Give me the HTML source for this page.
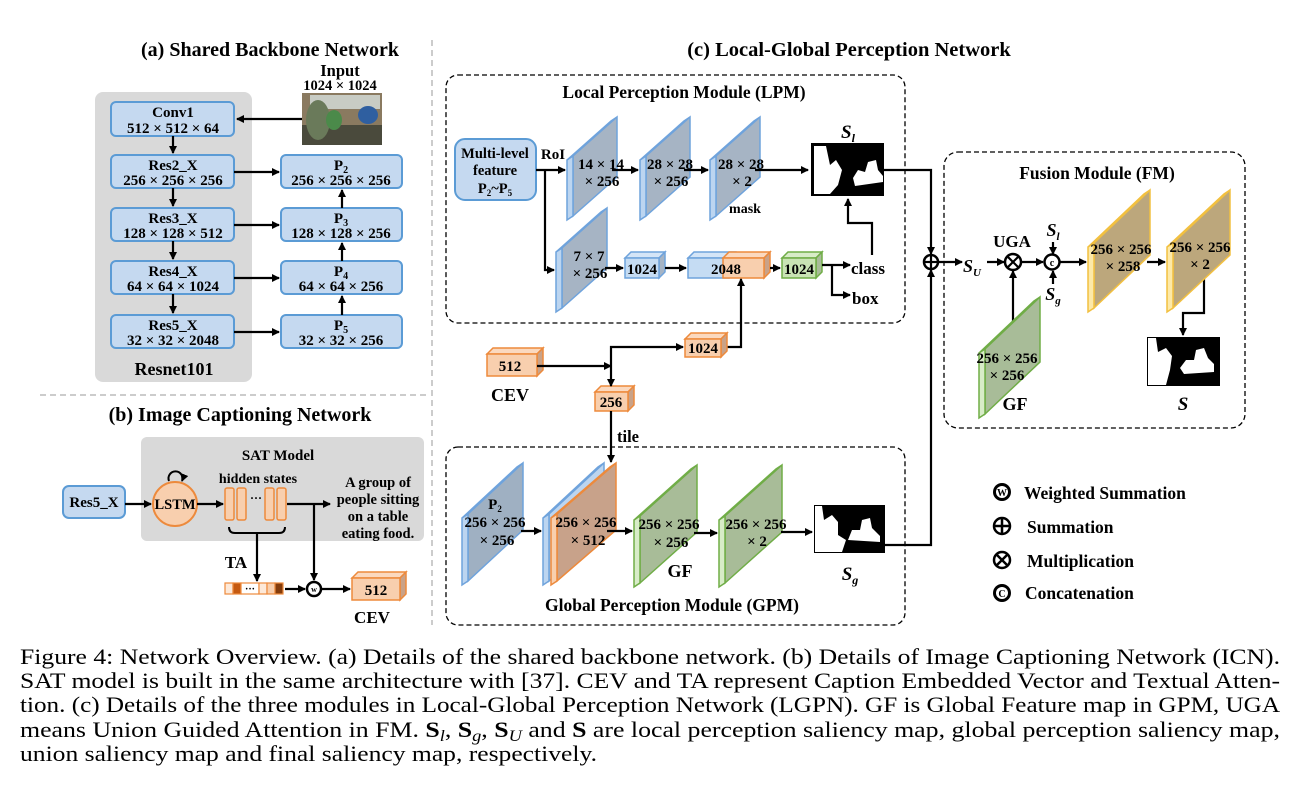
<!DOCTYPE html>
<html><head><meta charset="utf-8"><style>
html,body{margin:0;padding:0;background:#fff;}
svg{display:block;}
text{font-family:"Liberation Serif",serif;}
.b{font-weight:bold;}
</style></head><body>
<svg width="1301" height="794" viewBox="0 0 1301 794" xmlns="http://www.w3.org/2000/svg">
<defs>
<marker id="ar" markerWidth="8" markerHeight="8" refX="7" refY="4" orient="auto" markerUnits="userSpaceOnUse">
<path d="M0,0 L8,4 L0,8 Z" fill="#000"/></marker>
</defs>

<line x1="432" y1="40" x2="432" y2="625" stroke="#bbb" stroke-width="1.5" stroke-dasharray="6,4"/>
<line x1="40" y1="395" x2="430" y2="395" stroke="#bbb" stroke-width="1.5" stroke-dasharray="6,4"/>

<!-- (a) -->
<text x="270" y="56" font-size="20" class="b" text-anchor="middle">(a) Shared Backbone Network</text>
<text x="340" y="76" font-size="16.5" class="b" text-anchor="middle">Input</text>
<text x="340" y="90" font-size="14.5" class="b" text-anchor="middle">1024 × 1024</text>
<rect x="95" y="92" width="157" height="290" rx="8" fill="#d9d9d9"/>
<g fill="#c5d9f0" stroke="#5b9bd5" stroke-width="2">
<rect x="111" y="102" width="123" height="34" rx="5"/>
<rect x="111" y="155" width="123" height="33" rx="5"/>
<rect x="111" y="208" width="123" height="33" rx="5"/>
<rect x="111" y="261" width="123" height="33" rx="5"/>
<rect x="111" y="315" width="123" height="33" rx="5"/>
<rect x="281" y="155" width="121" height="33" rx="5"/>
<rect x="281" y="208" width="121" height="33" rx="5"/>
<rect x="281" y="261" width="121" height="33" rx="5"/>
<rect x="281" y="315" width="121" height="33" rx="5"/>
</g>
<g font-size="15" class="b" text-anchor="middle">
<text x="173" y="117">Conv1</text><text x="173" y="133">512 × 512 × 64</text>
<text x="173" y="170">Res2_X</text><text x="173" y="185">256 × 256 × 256</text>
<text x="173" y="223">Res3_X</text><text x="173" y="238">128 × 128 × 512</text>
<text x="173" y="276">Res4_X</text><text x="173" y="291">64 × 64 × 1024</text>
<text x="173" y="330">Res5_X</text><text x="173" y="345">32 × 32 × 2048</text>
<text x="341" y="170">P<tspan font-size="10" dy="3">2</tspan></text><text x="341" y="185">256 × 256 × 256</text>
<text x="341" y="223">P<tspan font-size="10" dy="3">3</tspan></text><text x="341" y="238">128 × 128 × 256</text>
<text x="341" y="276">P<tspan font-size="10" dy="3">4</tspan></text><text x="341" y="291">64 × 64 × 256</text>
<text x="341" y="330">P<tspan font-size="10" dy="3">5</tspan></text><text x="341" y="345">32 × 32 × 256</text>
</g>
<text x="174" y="375" font-size="18" class="b" text-anchor="middle">Resnet101</text>
<rect x="302" y="93" width="80" height="52" fill="#8a7a60"/>
<rect x="310" y="95" width="70" height="14" fill="#c8ccc4"/>
<rect x="302" y="125" width="80" height="20" fill="#4a4a3c"/>
<ellipse cx="318" cy="120" rx="12" ry="20" fill="#6a7a5a"/>
<ellipse cx="334" cy="120" rx="8" ry="10" fill="#4b8a4a"/>
<ellipse cx="368" cy="115" rx="10" ry="9" fill="#2f5fa0"/>
<g stroke="#000" stroke-width="2.2" fill="none" marker-end="url(#ar)">
<line x1="302" y1="119" x2="237" y2="119"/>
<line x1="173" y1="136" x2="173" y2="153"/>
<line x1="173" y1="188" x2="173" y2="206"/>
<line x1="173" y1="241" x2="173" y2="259"/>
<line x1="173" y1="294" x2="173" y2="313"/>
<line x1="234" y1="172" x2="279" y2="172"/>
<line x1="234" y1="225" x2="279" y2="225"/>
<line x1="234" y1="278" x2="279" y2="278"/>
<line x1="234" y1="332" x2="279" y2="332"/>
<line x1="342" y1="315" x2="342" y2="296"/>
<line x1="342" y1="261" x2="342" y2="243"/>
<line x1="342" y1="208" x2="342" y2="190"/>
</g>

<!-- (b) -->
<text x="240" y="421" font-size="20" class="b" text-anchor="middle">(b) Image Captioning Network</text>
<rect x="141" y="437" width="283" height="104" rx="6" fill="#d9d9d9"/>
<text x="278" y="460" font-size="15" class="b" text-anchor="middle">SAT Model</text>
<rect x="63" y="486" width="62" height="32" rx="6" fill="#c5d9f0" stroke="#5b9bd5" stroke-width="2"/>
<text x="94" y="507" font-size="15" class="b" text-anchor="middle">Res5_X</text>
<circle cx="175" cy="504" r="22" fill="#f8cfae" stroke="#ed8a3c" stroke-width="2"/>
<text x="175" y="509" font-size="14.5" class="b" text-anchor="middle">LSTM</text>
<path d="M169,481 A7,7 0 1 1 182,481" stroke="#000" stroke-width="2" fill="none" marker-end="url(#ar)"/>
<text x="258" y="483" font-size="14" class="b" text-anchor="middle">hidden states</text>
<g fill="#f8cfae" stroke="#ed8a3c" stroke-width="1.5">
<rect x="225" y="488" width="9" height="32" rx="2"/><rect x="237" y="488" width="9" height="32" rx="2"/>
<rect x="265" y="488" width="9" height="32" rx="2"/><rect x="277" y="488" width="9" height="32" rx="2"/>
</g>
<text x="256" y="502" font-size="12" class="b" text-anchor="middle">···</text>
<g font-size="14.5" class="b" text-anchor="middle">
<text x="378" y="487">A group of</text><text x="378" y="504">people sitting</text>
<text x="378" y="521">on a table</text><text x="378" y="538">eating food.</text>
</g>
<path d="M229,527 Q229,533 235,533 L279,533 Q285,533 285,527" stroke="#000" stroke-width="2" fill="none"/>
<text x="236" y="568" font-size="17" class="b" text-anchor="middle">TA</text>
<g stroke="#ed8a3c" stroke-width="1.2">
<rect x="225" y="583" width="8" height="11" fill="#fde9d9"/><rect x="233" y="583" width="8" height="11" fill="#c55a11"/>
<rect x="241" y="583" width="18" height="11" fill="#fff"/><rect x="259" y="583" width="8" height="11" fill="#fde9d9"/>
<rect x="267" y="583" width="8" height="11" fill="#f8cfae"/><rect x="275" y="583" width="8" height="11" fill="#843c0c"/>
</g>
<text x="250" y="592" font-size="10" class="b" text-anchor="middle">···</text>
<circle cx="314" cy="589" r="7" fill="#fff" stroke="#000" stroke-width="2.5"/>
<text x="314" y="592" font-size="8" class="b" text-anchor="middle">w</text>
<g stroke="#000" stroke-width="2.2" fill="none" marker-end="url(#ar)">
<line x1="125" y1="504" x2="151" y2="504"/>
<line x1="197" y1="504" x2="223" y2="504"/>
<line x1="287" y1="504" x2="330" y2="504"/>
<line x1="314" y1="504" x2="314" y2="580"/>
<line x1="257" y1="533" x2="257" y2="581"/>
<line x1="285" y1="589" x2="305" y2="589"/>
<line x1="322" y1="589" x2="350" y2="589"/>
</g>
<g stroke="#ed8a3c" stroke-width="1.5">
<polygon points="352,578 358,572 406,572 400,578" fill="#fbd9bf"/>
<polygon points="400,578 406,572 406,594 400,600" fill="#c9a288"/>
<rect x="352" y="578" width="48" height="22" fill="#f8cfae"/>
</g>
<text x="376" y="595" font-size="15" class="b" text-anchor="middle">512</text>
<text x="372" y="623" font-size="17" class="b" text-anchor="middle">CEV</text>

<!-- (c) -->
<text x="849" y="56" font-size="20.5" class="b" text-anchor="middle">(c) Local-Global Perception Network</text>
<rect x="446" y="75" width="459" height="248" rx="12" fill="none" stroke="#000" stroke-width="1.3" stroke-dasharray="5,3"/>
<text x="684" y="98" font-size="17.5" class="b" text-anchor="middle">Local Perception Module (LPM)</text>
<rect x="455" y="139" width="81" height="61" rx="10" fill="#c5d9f0" stroke="#5b9bd5" stroke-width="2"/>
<g font-size="14.5" class="b" text-anchor="middle">
<text x="495" y="158">Multi-level</text><text x="495" y="175">feature</text>
<text x="495" y="193">P<tspan font-size="9" dy="3">2</tspan><tspan dy="-3">~P</tspan><tspan font-size="9" dy="3">5</tspan></text>
</g>
<text x="553" y="159" font-size="15" class="b" text-anchor="middle">RoI</text>

<g stroke="#6fa3dc" stroke-width="1.5">
<polygon points="567,160 573,156 617,117 611,121" fill="#bcd5f0"/>
<polygon points="573,156 617,117 617,177 573,216" fill="#a6b4c4"/>
<polygon points="567,160 573,156 573,216 567,220" fill="#bcd5f0"/>
<polygon points="640,160 646,156 690,117 684,121" fill="#bcd5f0"/>
<polygon points="646,156 690,117 690,177 646,216" fill="#a6b4c4"/>
<polygon points="640,160 646,156 646,216 640,220" fill="#bcd5f0"/>
<polygon points="710,160 716,156 760,117 754,121" fill="#bcd5f0"/>
<polygon points="716,156 760,117 760,177 716,216" fill="#a6b4c4"/>
<polygon points="710,160 716,156 716,216 710,220" fill="#bcd5f0"/>
<polygon points="556,252 562,248 607,208 601,212" fill="#bcd5f0"/>
<polygon points="562,248 607,208 607,268 562,308" fill="#a6b4c4"/>
<polygon points="556,252 562,248 562,308 556,312" fill="#bcd5f0"/>
</g>
<g font-size="15" class="b" text-anchor="middle">
<text x="601" y="169">14 × 14</text><text x="602" y="186">× 256</text>
<text x="670" y="169">28 × 28</text><text x="671" y="186">× 256</text>
<text x="741" y="169">28 × 28</text><text x="742" y="186">× 2</text>
<text x="589" y="261">7 × 7</text><text x="590" y="278">× 256</text>
</g>
<text x="745" y="213" font-size="14" class="b" text-anchor="middle">mask</text>
<g stroke-width="1.5">
<g stroke="#6fa3dc">
<polygon points="625,258 631,252 665,252 659,258" fill="#d4e5f7"/>
<polygon points="659,258 665,252 665,272 659,278" fill="#a6b4c4"/>
<rect x="625" y="258" width="34" height="20" fill="#c5dcf3"/>
<polygon points="688,258 694,252 735,252 729,258" fill="#d4e5f7"/>
<rect x="688" y="258" width="41" height="20" fill="#c5dcf3"/>
</g>
<g stroke="#ed8a3c">
<polygon points="723,258 729,252 770,252 764,258" fill="#fbd9bf"/>
<polygon points="764,258 770,252 770,272 764,278" fill="#c9a288"/>
<rect x="723" y="258" width="41" height="20" fill="#f8cfae"/>
</g>
<g stroke="#70ad47">
<polygon points="782,258 788,252 822,252 816,258" fill="#d8ecc8"/>
<polygon points="816,258 822,252 822,272 816,278" fill="#a8bc98"/>
<rect x="782" y="258" width="34" height="20" fill="#c9e3b4"/>
</g>
</g>
<g font-size="15" class="b" text-anchor="middle">
<text x="642" y="274">1024</text><text x="726" y="274">2048</text><text x="799" y="274">1024</text>
</g>
<text x="851" y="274" font-size="17" class="b">class</text>
<text x="852" y="304" font-size="17" class="b">box</text>
<rect x="811" y="143" width="73" height="53" fill="#000"/>
<path d="M814,146 L826,146 L830,165 L836,160 L842,170 L838,185 L830,194 L814,194 Z" fill="#fff"/>
<path d="M853,178 L858,170 L865,172 L868,162 L876,160 L878,170 L883,176 L883,182 L855,186 Z" fill="#fff"/>
<text x="848" y="138" font-size="19" class="b" font-style="italic" text-anchor="middle">S<tspan font-size="12" dy="4">l</tspan></text>
<g stroke="#000" stroke-width="2.2" fill="none" marker-end="url(#ar)">
<line x1="536" y1="170" x2="565" y2="170"/>
<polyline points="545,170 545,270 554,270"/>
<line x1="612" y1="170" x2="638" y2="170"/>
<line x1="684" y1="170" x2="708" y2="170"/>
<line x1="755" y1="170" x2="808" y2="170"/>
<line x1="605" y1="268" x2="623" y2="268"/>
<line x1="665" y1="268" x2="686" y2="268"/>
<line x1="770" y1="268" x2="780" y2="268"/>
<line x1="822" y1="265" x2="850" y2="265"/>
<polyline points="832,265 832,295 850,295"/>
<polyline points="872,255 872,223 848,223 848,199"/>
<polyline points="727,347 741,347 741,279"/>
</g>

<g stroke="#ed8a3c" stroke-width="1.5">
<polygon points="487,354 493,348 543,348 537,354" fill="#fbd9bf"/>
<polygon points="537,354 543,348 543,370 537,376" fill="#c9a288"/>
<rect x="487" y="354" width="50" height="22" fill="#f8cfae"/>
<polygon points="685,339 691,333 727,333 721,339" fill="#fbd9bf"/>
<polygon points="721,339 727,333 727,351 721,357" fill="#c9a288"/>
<rect x="685" y="339" width="36" height="18" fill="#f8cfae"/>
<polygon points="595,392 601,386 634,386 628,392" fill="#fbd9bf"/>
<polygon points="628,392 634,386 634,405 628,411" fill="#c9a288"/>
<rect x="595" y="392" width="33" height="19" fill="#f8cfae"/>
</g>
<g font-size="15" class="b" text-anchor="middle">
<text x="510" y="371">512</text><text x="703" y="353">1024</text><text x="611" y="407">256</text>
</g>
<text x="510" y="401" font-size="18" class="b" text-anchor="middle">CEV</text>
<text x="617" y="442" font-size="16.5" class="b">tile</text>
<g stroke="#000" stroke-width="2.2" fill="none" marker-end="url(#ar)">
<line x1="537" y1="366" x2="611" y2="366"/>
<polyline points="611,366 611,347 683,347"/>
<line x1="611" y1="366" x2="611" y2="386"/>
<line x1="611" y1="411" x2="611" y2="462"/>
</g>

<!-- GPM -->
<rect x="446" y="447" width="459" height="178" rx="12" fill="none" stroke="#000" stroke-width="1.3" stroke-dasharray="5,3"/>
<text x="672" y="611" font-size="17.5" class="b" text-anchor="middle">Global Perception Module (GPM)</text>
<g stroke-width="1.5">
<g stroke="#6fa3dc">
<polygon points="462,518 468,514 523,463 517,467" fill="#bcd5f0"/>
<polygon points="468,514 523,463 523,530 468,581" fill="#9fb0c2"/>
<polygon points="462,518 468,514 468,581 462,585" fill="#bcd5f0"/>
<polygon points="543,518 549,514 604,463 598,467" fill="#bcd5f0"/>
<polygon points="549,514 604,463 604,530 549,581" fill="#bcd5f0"/>
<polygon points="543,518 549,514 549,581 543,585" fill="#bcd5f0"/>
</g>
<g stroke="#ed8a3c">
<polygon points="551,518 557,514 616,463 610,467" fill="#f8cfae"/>
<polygon points="557,514 616,463 616,530 557,581" fill="#c8a28a"/>
<polygon points="551,518 557,514 557,581 551,585" fill="#f8cfae"/>
</g>
<g stroke="#70ad47">
<polygon points="634,520 640,516 697,465 691,469" fill="#d8ecc8"/>
<polygon points="640,516 697,465 697,532 640,583" fill="#a8bc98"/>
<polygon points="634,520 640,516 640,583 634,587" fill="#d8ecc8"/>
<polygon points="719,520 725,516 782,465 776,469" fill="#d8ecc8"/>
<polygon points="725,516 782,465 782,532 725,583" fill="#a8bc98"/>
<polygon points="719,520 725,516 725,583 719,587" fill="#d8ecc8"/>
</g>
</g>
<g font-size="15" class="b" text-anchor="middle">
<text x="495" y="509">P<tspan font-size="9" dy="3">2</tspan></text>
<text x="495" y="527">256 × 256</text><text x="497" y="545">× 256</text>
<text x="586" y="527">256 × 256</text><text x="588" y="545">× 512</text>
<text x="669" y="529">256 × 256</text><text x="671" y="547">× 256</text>
<text x="756" y="529">256 × 256</text><text x="757" y="546">× 2</text>
</g>
<text x="680" y="577" font-size="18" class="b" text-anchor="middle">GF</text>
<rect x="814" y="505" width="71" height="48" fill="#000"/>
<path d="M815,506 L822,506 L824,520 L832,515 L838,522 L838,535 L846,540 L842,552 L815,552 Z" fill="#fff"/>
<path d="M848,540 L852,530 L860,530 L862,520 L870,518 L872,528 L880,536 L880,542 Z" fill="#fff"/>
<text x="850" y="580" font-size="19" class="b" font-style="italic" text-anchor="middle">S<tspan font-size="12" dy="4">g</tspan></text>
<g stroke="#000" stroke-width="2.2" fill="none" marker-end="url(#ar)">
<line x1="521" y1="531" x2="541" y2="531"/>
<line x1="607" y1="531" x2="632" y2="531"/>
<line x1="694" y1="533" x2="717" y2="533"/>
<line x1="781" y1="532" x2="812" y2="532"/>
</g>

<g stroke="#000" stroke-width="2.2" fill="none" marker-end="url(#ar)">
<polyline points="884,170 931,170 931,254"/>
<polyline points="885,545 931,545 931,270"/>
</g>
<circle cx="931" cy="262" r="7" fill="#fff" stroke="#000" stroke-width="2.5"/>
<line x1="924" y1="262" x2="938" y2="262" stroke="#000" stroke-width="2.2"/>
<line x1="931" y1="255" x2="931" y2="269" stroke="#000" stroke-width="2.2"/>

<!-- FM -->
<rect x="944" y="152" width="301" height="276" rx="14" fill="none" stroke="#000" stroke-width="1.3" stroke-dasharray="5,3"/>
<text x="1097" y="179" font-size="17.5" class="b" text-anchor="middle">Fusion Module (FM)</text>
<text x="963" y="272" font-size="18" font-style="italic" class="b">S<tspan font-size="11" dy="4">U</tspan></text>
<text x="1012" y="247" font-size="17" class="b" text-anchor="middle">UGA</text>
<text x="1053" y="236" font-size="18" font-style="italic" class="b" text-anchor="middle">S<tspan font-size="11" dy="4">l</tspan></text>
<text x="1053" y="300" font-size="18" font-style="italic" class="b" text-anchor="middle">S<tspan font-size="11" dy="4">g</tspan></text>
<g stroke="#000" stroke-width="2.2" fill="none" marker-end="url(#ar)">
<line x1="938" y1="262" x2="962" y2="262"/>
<line x1="987" y1="262" x2="1004" y2="262"/>
<line x1="1022" y1="262" x2="1043" y2="262"/>
<line x1="1060" y1="262" x2="1086" y2="262"/>
<line x1="1053" y1="242" x2="1053" y2="254"/>
<line x1="1053" y1="284" x2="1053" y2="271"/>
<line x1="1013" y1="322" x2="1013" y2="271"/>
<line x1="1147" y1="262" x2="1165" y2="262"/>
<polyline points="1204,278 1204,313 1183,313 1183,335"/>
</g>
<circle cx="1013" cy="262" r="8" fill="#fff" stroke="#000" stroke-width="2.5"/>
<line x1="1008" y1="257" x2="1018" y2="267" stroke="#000" stroke-width="2.2"/>
<line x1="1018" y1="257" x2="1008" y2="267" stroke="#000" stroke-width="2.2"/>
<circle cx="1052" cy="262" r="7.5" fill="#fff" stroke="#000" stroke-width="2.5"/>
<text x="1052" y="266" font-size="10" class="b" text-anchor="middle">c</text>
<g stroke-width="1.5">
<g stroke="#f2c040">
<polygon points="1088,247 1094,243 1150,190 1144,194" fill="#fde9a8"/>
<polygon points="1094,243 1150,190 1150,255 1094,308" fill="#bca77c"/>
<polygon points="1088,247 1094,243 1094,308 1088,312" fill="#fde9a8"/>
<polygon points="1167,247 1173,243 1230,190 1224,194" fill="#fde9a8"/>
<polygon points="1173,243 1230,190 1230,255 1173,308" fill="#bca77c"/>
<polygon points="1167,247 1173,243 1173,308 1167,312" fill="#fde9a8"/>
</g>
<g stroke="#70ad47">
<polygon points="979,353 985,349 1040,297 1034,301" fill="#d8ecc8"/>
<polygon points="985,349 1040,297 1040,362 985,414" fill="#a8bc98"/>
<polygon points="979,353 985,349 985,414 979,418" fill="#d8ecc8"/>
</g>
</g>
<g font-size="15" class="b" text-anchor="middle">
<text x="1121" y="254">256 × 256</text><text x="1123" y="271">× 258</text>
<text x="1200" y="252">256 × 256</text><text x="1200" y="269">× 2</text>
<text x="1007" y="363">256 × 256</text><text x="1007" y="380">× 256</text>
</g>
<text x="1015" y="410" font-size="18" class="b" text-anchor="middle">GF</text>
<rect x="1147" y="337" width="73" height="49" fill="#000"/>
<path d="M1148,338 L1156,338 L1158,352 L1166,348 L1172,356 L1170,370 L1166,385 L1148,385 Z" fill="#fff"/>
<path d="M1180,368 L1186,360 L1194,360 L1196,350 L1204,348 L1208,358 L1214,364 L1214,372 L1184,374 Z" fill="#fff"/>
<text x="1183" y="410" font-size="19" class="b" font-style="italic" text-anchor="middle">S</text>

<!-- legend -->
<circle cx="1002" cy="492" r="9" fill="#000"/><circle cx="1002" cy="492" r="6" fill="#fff"/>
<text x="1002" y="496" font-size="10" class="b" text-anchor="middle">W</text>
<circle cx="1002" cy="526" r="8" fill="#fff" stroke="#000" stroke-width="2.5"/>
<line x1="994" y1="526" x2="1010" y2="526" stroke="#000" stroke-width="2.5"/><line x1="1002" y1="518" x2="1002" y2="534" stroke="#000" stroke-width="2.5"/>
<circle cx="1002" cy="560" r="8" fill="#fff" stroke="#000" stroke-width="2.5"/>
<line x1="997" y1="555" x2="1007" y2="565" stroke="#000" stroke-width="2.5"/><line x1="1007" y1="555" x2="997" y2="565" stroke="#000" stroke-width="2.5"/>
<circle cx="1002" cy="593" r="9" fill="#000"/><circle cx="1002" cy="593" r="6" fill="#fff"/>
<text x="1002" y="597" font-size="10" class="b" text-anchor="middle">C</text>
<g font-size="17.5" class="b">
<text x="1024" y="499">Weighted Summation</text>
<text x="1027" y="533">Summation</text>
<text x="1027" y="567">Multiplication</text>
<text x="1025" y="599">Concatenation</text>
</g>

<!-- caption -->
<g font-size="22.5">
<text x="20" y="664" textLength="1260" lengthAdjust="spacingAndGlyphs">Figure 4:  Network Overview. (a) Details of the shared backbone network. (b) Details of Image Captioning Network (ICN).</text>
<text x="20" y="688" textLength="1260" lengthAdjust="spacingAndGlyphs">SAT model is built in the same architecture with [37]. CEV and TA represent Caption Embedded Vector and Textual Atten-</text>
<text x="20" y="712" textLength="1260" lengthAdjust="spacingAndGlyphs">tion. (c) Details of the three modules in Local-Global Perception Network (LGPN). GF is Global Feature map in GPM, UGA</text>
<text x="20" y="737" textLength="1260" lengthAdjust="spacingAndGlyphs">means Union Guided Attention in FM. <tspan font-weight="bold">S</tspan><tspan font-style="italic" font-size="16" dy="4">l</tspan><tspan dy="-4">, </tspan><tspan font-weight="bold">S</tspan><tspan font-style="italic" font-size="16" dy="4">g</tspan><tspan dy="-4">, </tspan><tspan font-weight="bold">S</tspan><tspan font-style="italic" font-size="16" dy="4">U</tspan><tspan dy="-4"> and </tspan><tspan font-weight="bold">S</tspan> are local perception saliency map, global perception saliency map,</text>
<text x="20" y="761" textLength="577" lengthAdjust="spacingAndGlyphs">union saliency map and final saliency map, respectively.</text>
</g>
</svg>
</body></html>
